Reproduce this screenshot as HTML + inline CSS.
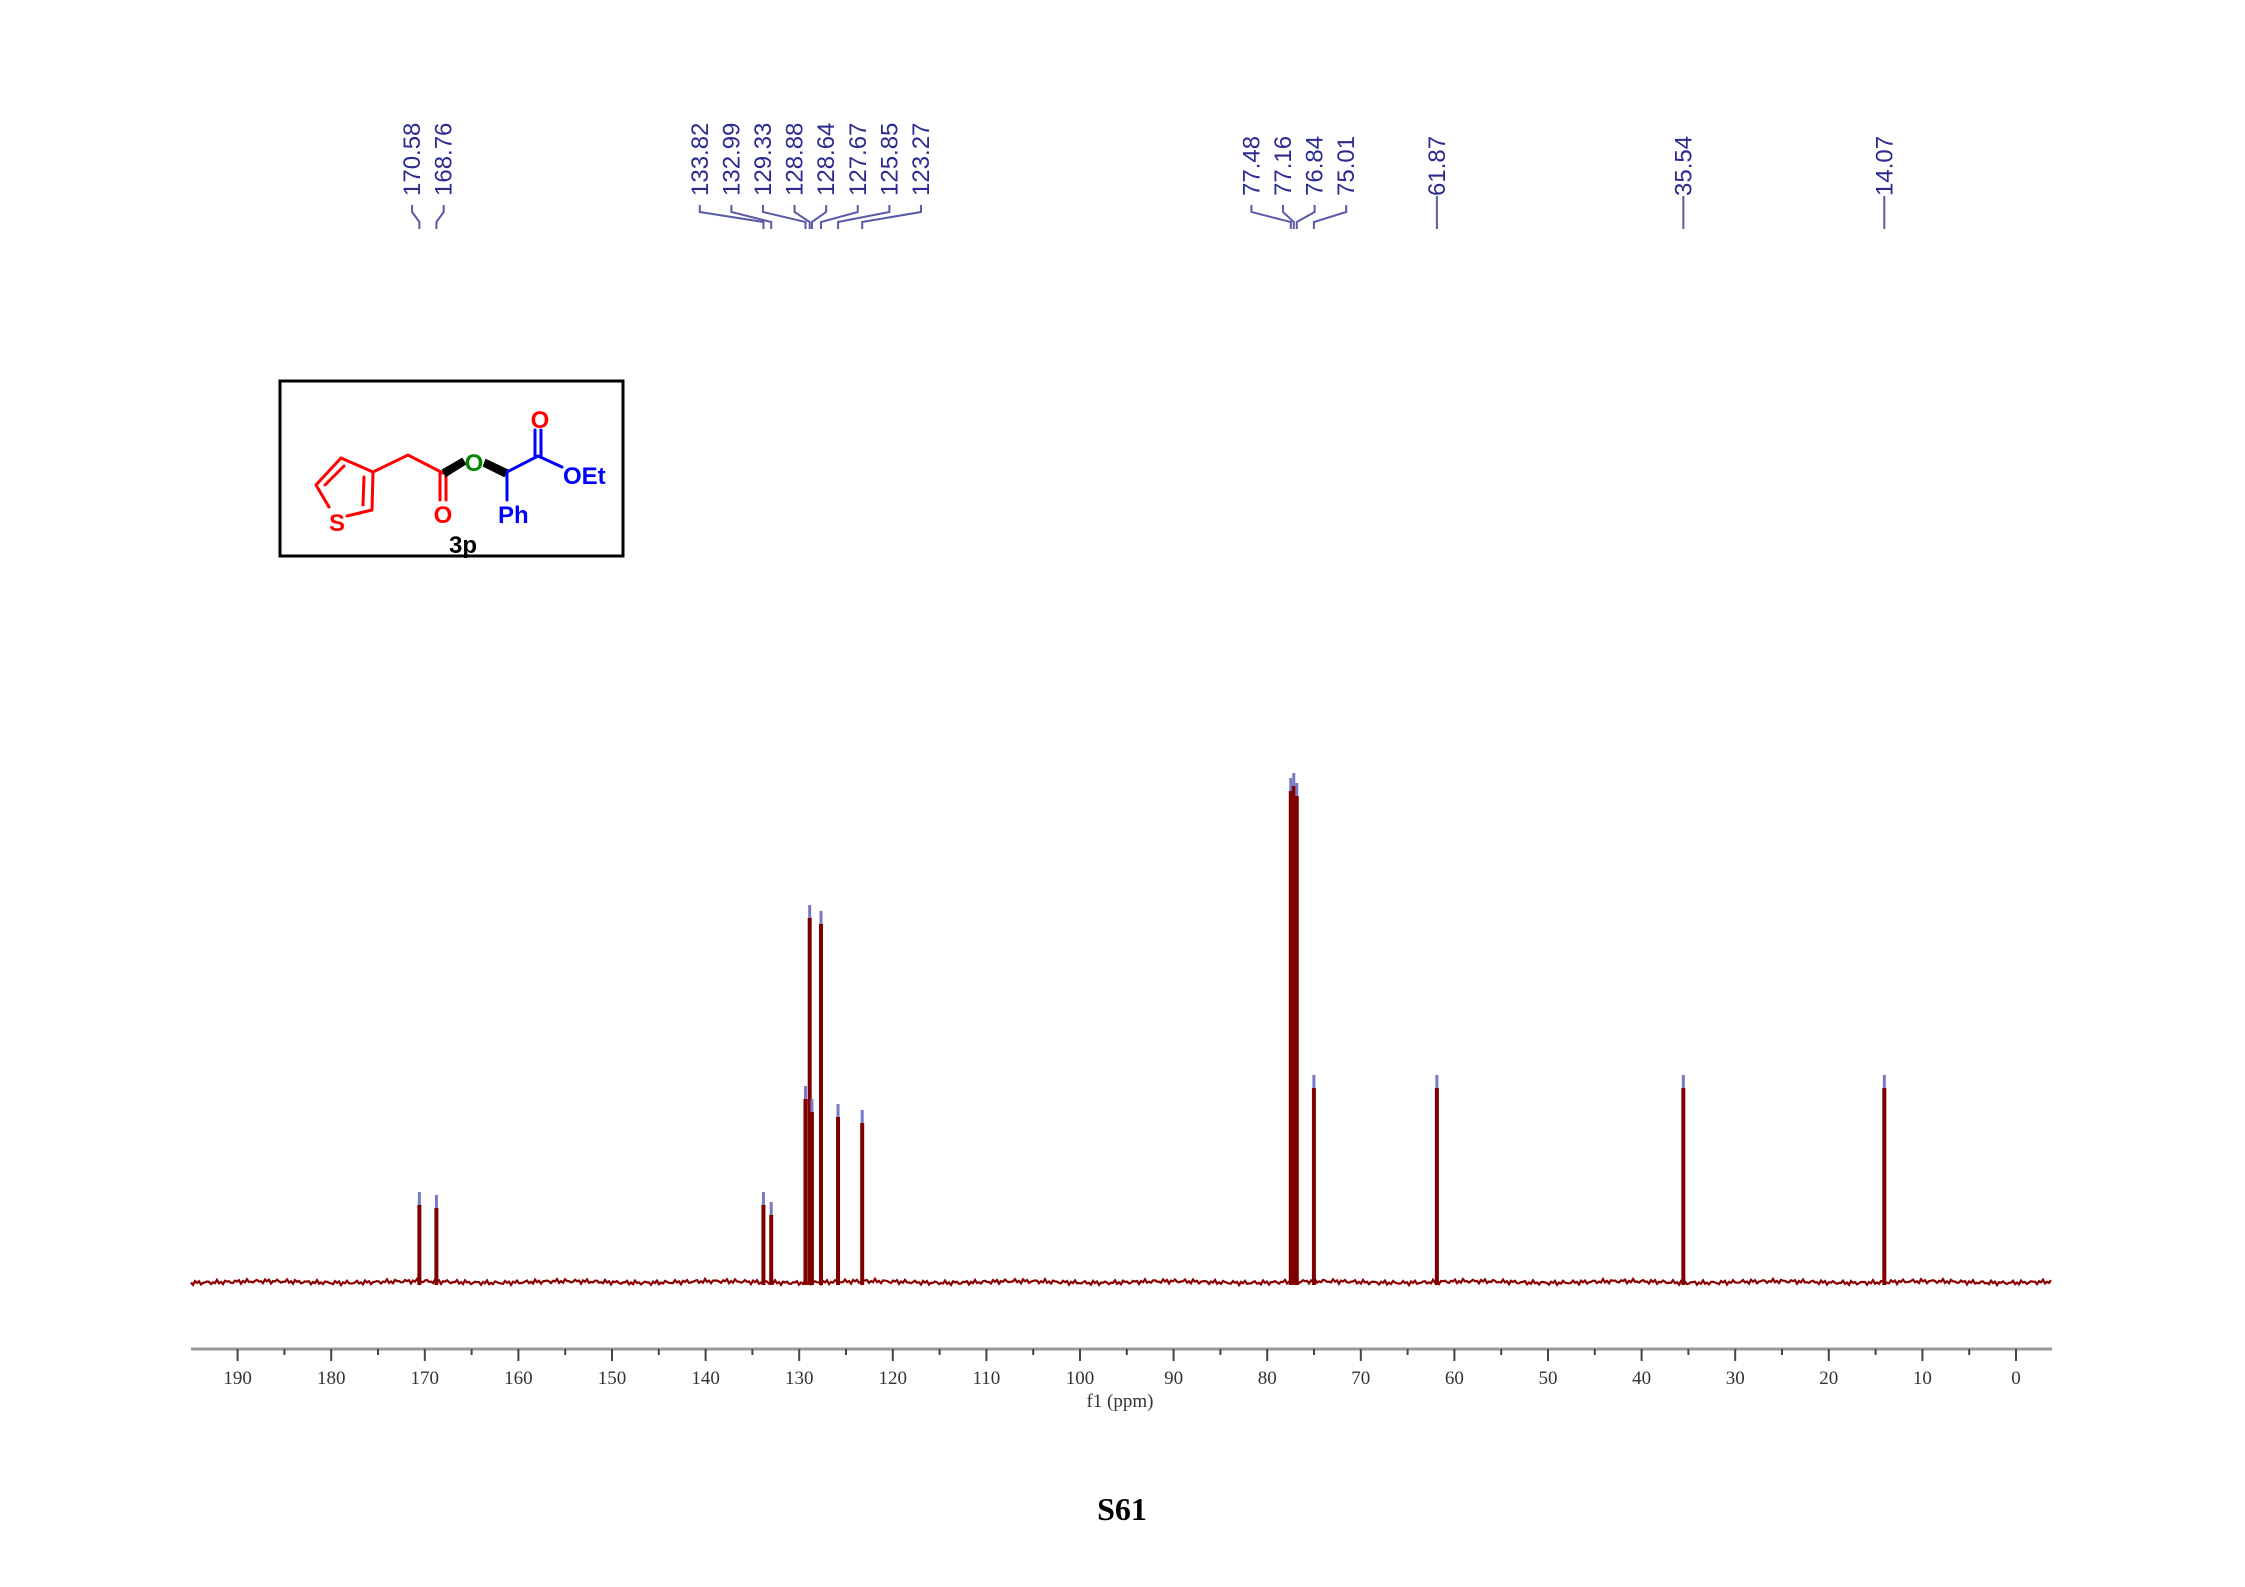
<!DOCTYPE html>
<html><head><meta charset="utf-8"><style>
html,body{margin:0;padding:0;background:#fff}
svg{display:block}
</style></head><body>
<svg id="c" xmlns="http://www.w3.org/2000/svg" width="2245" height="1587" viewBox="0 0 2245 1587">
<rect width="2245" height="1587" fill="#fff"/>
<g id="peaksG"></g>
<g id="labelsG"></g>
<g id="axisG"></g>
<text x="1120" y="1407" font-family="Liberation Serif, serif" font-size="19" text-anchor="middle" fill="#333">f1  (ppm)</text>
<text x="1122" y="1520" font-family="Liberation Serif, serif" font-size="32" font-weight="bold" text-anchor="middle" fill="#000">S61</text>
<g>
<rect x="280" y="381" width="343" height="175" fill="#fff" stroke="#000" stroke-width="3"/>
<g fill="none" stroke-width="3" stroke-linecap="round">
<g stroke="#f00">
<polyline points="341,458 316,485 329,507"/>
<line x1="347" y1="516" x2="372" y2="510"/>
<line x1="372" y1="510" x2="373" y2="472"/>
<line x1="363" y1="505" x2="364" y2="477"/>
<line x1="373" y1="472" x2="341" y2="458"/>
<line x1="325" y1="485" x2="344" y2="466"/>
<polyline points="373,472 408,455 443,473"/>
<line x1="440" y1="473" x2="440" y2="500"/>
<line x1="446" y1="473" x2="446" y2="500"/>
</g>
<polygon points="443,470 462,459 465,464 446,476" fill="#000" stroke="#000" stroke-width="2"/>
<polygon points="486,460 507,470 504,476 484,466" fill="#000" stroke="#000" stroke-width="2"/>
<g stroke="#00f">
<polyline points="507,472 538,456 562,467"/>
<line x1="507" y1="472" x2="507" y2="500"/>
<line x1="535" y1="456" x2="535" y2="430"/>
<line x1="541" y1="456" x2="541" y2="430"/>
</g>
</g>
<g font-family="Liberation Sans, sans-serif" font-weight="bold" font-size="24">
<text x="337" y="531" fill="#f00" text-anchor="middle">S</text>
<text x="443" y="523" fill="#f00" text-anchor="middle">O</text>
<text x="474" y="471" fill="#080" text-anchor="middle">O</text>
<text x="540" y="428" fill="#f00" text-anchor="middle">O</text>
<text x="563" y="484" fill="#00f">OEt</text>
<text x="498" y="523" fill="#00f">Ph</text>
<text x="463" y="553" fill="#000" text-anchor="middle">3p</text>
</g>
</g>
</svg>
<script>
const ppms=[170.58,168.76,133.82,132.99,129.33,128.88,128.64,127.67,125.85,123.27,77.48,77.16,76.84,75.01,61.87,35.54,14.07];
const intensities=[77,74,77,67,183,364,170,358,165,159,491,496,486,194,194,194,194];
const peakLabels=["170.58","168.76","133.82","132.99","129.33","128.88","128.64","127.67","125.85","123.27","77.48","77.16","76.84","75.01","61.87","35.54","14.07"];
const tickValues=[190,180,170,160,150,140,130,120,110,100,90,80,70,60,50,40,30,20,10,0];
const NS="http://www.w3.org/2000/svg";
const X0=2016, PXPPM=9.36, BASE=1282;
function xs(p){return X0-p*PXPPM;}
function ys(v){return BASE-v;}
function mk(tag,attrs,parent){const e=document.createElementNS(NS,tag);for(const k in attrs)e.setAttribute(k,attrs[k]);parent.appendChild(e);return e;}
const pg=document.getElementById('peaksG');
let pts=[];
for(let x=191;x<=2052;x+=2){const n=Math.sin(x*1.7)*1.3+Math.sin(x*0.63)*1.1+Math.sin(x*3.1)*0.8;pts.push(x+','+(BASE+n).toFixed(1));}
const noise=mk('polyline',{points:pts.join(' '),fill:'none',stroke:'#8b0000','stroke-width':2.2},pg);


ppms.forEach((p,i)=>{
  const x=xs(p), top=ys(intensities[i]);
  const l=mk('line',{x1:x,y1:BASE+3,x2:x,y2:top,stroke:'#800000','stroke-width':4},pg);
  
  
  const t=mk('line',{x1:x,y1:top,x2:x,y2:top-13,stroke:'#7878c8','stroke-width':3},pg);
  
  
});
const lg=document.getElementById('labelsG');
const order=ppms.map((p,i)=>i).sort((a,b)=>xs(ppms[a])-xs(ppms[b]));
const SP=31.6; let groups=[]; let cur=[order[0]];
for(let k=1;k<order.length;k++){const a=xs(ppms[order[k-1]]),b=xs(ppms[order[k]]);if(b-a<SP*1.2)cur.push(order[k]);else{groups.push(cur);cur=[order[k]];}}
groups.push(cur);
groups.forEach(g=>{
  const c=g.reduce((s,i)=>s+xs(ppms[i]),0)/g.length;
  g.forEach((i,k)=>{
    const lx=g.length===1?xs(ppms[i]):c+(k-(g.length-1)/2)*SP;
    const px=xs(ppms[i]);
    const tx=mk('text',{x:0,y:0,transform:`translate(${lx+8},196) rotate(-90)`,'font-family':'Liberation Sans, sans-serif','font-size':24,fill:'#2a2a90'},lg);
    tx.textContent=peakLabels[i];
    
    
    const pl=mk('polyline',{points:g.length===1?`${px},196 ${px},229`:`${lx},205 ${lx},212 ${px},222 ${px},229`,fill:'none',stroke:'#5a5aa8','stroke-width':2},lg);
    
    
  });
});
const ag=document.getElementById('axisG');
const al=mk('line',{x1:191,y1:1349,x2:2052,y2:1349,stroke:'#999','stroke-width':3},ag);


for(let v=195;v>=-5;v-=5){
  const x=xs(v); if(x<191||x>2052)continue;
  const major=v%10===0;
  const tk=mk('line',{x1:x,y1:1349,x2:x,y2:major?1361:1355,stroke:'#444','stroke-width':2},ag);
  
  
}
tickValues.forEach(v=>{
  const t=mk('text',{x:xs(v),y:1384,'text-anchor':'middle','font-family':'Liberation Serif, serif','font-size':19,fill:'#333'},ag);
  t.textContent=String(v);
  
  
});
</script>
</body></html>
